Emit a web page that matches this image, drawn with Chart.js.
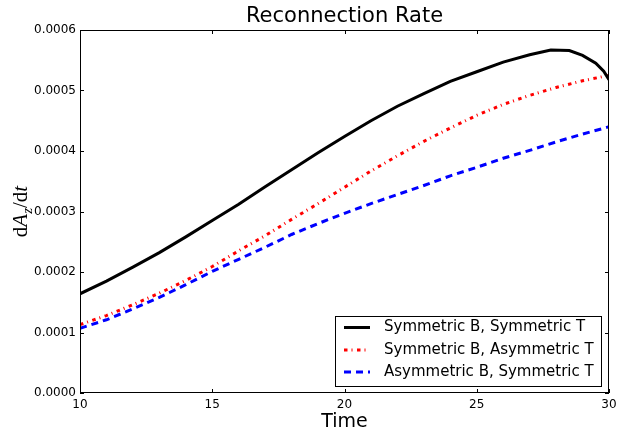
<!DOCTYPE html>
<html>
<head>
<meta charset="utf-8">
<script src="https://cdn.jsdelivr.net/npm/chart.js@4.4.1/dist/chart.umd.min.js"></script>
<style>
html,body{margin:0;padding:0;background:#fff;}
#wrap{width:618px;height:431px;position:relative;}
</style>
</head>
<body>
<div id="wrap"><canvas id="c" width="618" height="431"></canvas></div>
<script>
const titleText = "Reconnection Rate";
const xTitle = "Time";
const seriesLabels = ["Symmetric B, Symmetric T", "Symmetric B, Asymmetric T", "Asymmetric B, Symmetric T"];
const xTicks = [10, 15, 20, 25, 30];
const yTicks = [0, 0.0001, 0.0002, 0.0003, 0.0004, 0.0005, 0.0006];

const timeBlack = [10, 11, 12, 13, 14, 15, 16, 17, 18, 19, 20, 21, 22, 23, 24, 25, 26, 27, 27.8, 28.5, 29, 29.5, 29.8, 30];
const symBsymT = [0.000164, 0.000185, 0.000208, 0.000232, 0.000258, 0.000285, 0.000312, 0.000341, 0.000369, 0.000397, 0.000424, 0.000450, 0.000474, 0.000495, 0.000515, 0.000531, 0.000547, 0.000559, 0.000567, 0.000566, 0.000558, 0.000545, 0.000532, 0.000518];

const time = [10, 11, 12, 13, 14, 15, 16, 17, 18, 19, 20, 21, 22, 23, 24, 25, 26, 27, 28, 29, 30];
const symBasymT = [0.000113, 0.000128, 0.000146, 0.000165, 0.000186, 0.000209, 0.000235, 0.000260, 0.000287, 0.000313, 0.000340, 0.000367, 0.000392, 0.000416, 0.000438, 0.000459, 0.000477, 0.000492, 0.000505, 0.000516, 0.000525];
const asymBsymT = [0.000107, 0.000121, 0.000139, 0.000158, 0.000179, 0.000201, 0.000221, 0.000241, 0.000262, 0.000280, 0.000297, 0.000313, 0.000328, 0.000343, 0.000359, 0.000373, 0.000388, 0.000401, 0.000415, 0.000428, 0.000440];

const toPts = (xs, ys) => xs.map((x, i) => ({x: x, y: ys[i]}));

const styles = [
  {color: '#000000', dash: []},
  {color: '#ff0000', dash: [3.5, 4, 1, 4.5]},
  {color: '#0000ff', dash: [7, 5]}
];

const frame = {
  id: 'frame',
  afterDatasetsDraw(chart) {
    const ctx = chart.ctx;
    const a = chart.chartArea;
    const xs = chart.scales.x, ys = chart.scales.y;
    ctx.save();
    ctx.strokeStyle = '#000';
    ctx.lineWidth = 1;
    ctx.setLineDash([]);
    ctx.strokeRect(a.left + 0.5, a.top + 0.5, a.right - a.left - 1, a.bottom - a.top - 1);
    const tl = 4;
    ctx.beginPath();
    xTicks.forEach(v => {
      const px = Math.round(xs.getPixelForValue(v)) + 0.5;
      ctx.moveTo(px, a.bottom); ctx.lineTo(px, a.bottom - tl);
      ctx.moveTo(px, a.top); ctx.lineTo(px, a.top + tl);
    });
    yTicks.forEach(v => {
      const py = Math.round(ys.getPixelForValue(v)) + 0.5;
      ctx.moveTo(a.left, py); ctx.lineTo(a.left + tl, py);
      ctx.moveTo(a.right, py); ctx.lineTo(a.right - tl, py);
    });
    ctx.stroke();
    ctx.restore();
  },
  afterDraw(chart) {
    const ctx = chart.ctx;
    const a = chart.chartArea;
    ctx.save();
    ctx.fillStyle = '#000';
    ctx.font = '21px "DejaVu Sans"';
    ctx.textAlign = 'center';
    ctx.textBaseline = 'middle';
    ctx.fillText(titleText, (a.left + a.right) / 2, 17);
    ctx.font = '19px "DejaVu Sans"';
    ctx.fillText(xTitle, (a.left + a.right) / 2, 422);
    ctx.save();
    ctx.translate(20, (a.top + a.bottom) / 2);
    ctx.rotate(-Math.PI / 2);
    ctx.textBaseline = 'alphabetic';
    ctx.textAlign = 'left';
    const parts = [
      {t: 'd', f: '21px "Liberation Serif"', dy: 0},
      {t: 'A', f: 'italic 21px "Liberation Serif"', dy: 0},
      {t: 'z', f: 'italic 15px "Liberation Serif"', dy: 5},
      {t: '/', f: '21px "Liberation Serif"', dy: 0},
      {t: 'd', f: '21px "Liberation Serif"', dy: 0},
      {t: 't', f: 'italic 21px "Liberation Serif"', dy: 0}
    ];
    let total = 0;
    parts.forEach(p => { ctx.font = p.f; p.w = ctx.measureText(p.t).width; total += p.w; });
    let cx = -total / 2;
    parts.forEach(p => { ctx.font = p.f; ctx.fillText(p.t, cx, 7 + p.dy); cx += p.w; });
    ctx.restore();
    const lx = 335, ly = 316, lw = 266, lh = 70;
    ctx.fillStyle = '#fff';
    ctx.fillRect(lx, ly, lw, lh);
    ctx.strokeStyle = '#000';
    ctx.lineWidth = 1;
    ctx.setLineDash([]);
    ctx.strokeRect(lx + 0.5, ly + 0.5, lw, lh);
    const rows = [327.5, 350, 372];
    chart.data.datasets.forEach((ds, i) => {
      ctx.strokeStyle = ds.borderColor;
      ctx.lineWidth = 3;
      ctx.lineCap = 'butt';
      ctx.setLineDash(ds.borderDash || []);
      ctx.beginPath();
      ctx.moveTo(344, rows[i]); ctx.lineTo(370, rows[i]);
      ctx.stroke();
      ctx.setLineDash([]);
      ctx.fillStyle = '#000';
      ctx.font = '15px "DejaVu Sans"';
      ctx.textAlign = 'left';
      ctx.textBaseline = 'middle';
      ctx.fillText(ds.label, 384, rows[i]);
    });
    ctx.restore();
  }
};

new Chart(document.getElementById('c'), {
  type: 'line',
  data: {
    datasets: [
      {label: seriesLabels[0], data: toPts(timeBlack, symBsymT), borderColor: styles[0].color, borderDash: styles[0].dash, borderWidth: 3, pointRadius: 0, fill: false, tension: 0},
      {label: seriesLabels[1], data: toPts(time, symBasymT), borderColor: styles[1].color, borderDash: styles[1].dash, borderWidth: 3, pointRadius: 0, fill: false, tension: 0},
      {label: seriesLabels[2], data: toPts(time, asymBsymT), borderColor: styles[2].color, borderDash: styles[2].dash, borderWidth: 3, pointRadius: 0, fill: false, tension: 0}
    ]
  },
  options: {
    responsive: false,
    animation: false,
    layout: {padding: {top: 30, right: 9, left: 0, bottom: 0}},
    plugins: {legend: {display: false}, title: {display: false}, tooltip: {enabled: false}},
    scales: {
      x: {
        type: 'linear', min: 10, max: 30,
        afterFit: s => { s.height = 38; s.paddingLeft = 0; s.paddingRight = 0; },
        afterBuildTicks: s => { s.ticks = xTicks.map(v => ({value: v})); },
        grid: {display: false, drawTicks: false},
        border: {display: false},
        ticks: {color: '#000', font: {family: 'DejaVu Sans', size: 12}, padding: 5, maxRotation: 0, callback: v => String(v)}
      },
      y: {
        type: 'linear', min: 0, max: 0.0006,
        afterFit: s => { s.width = 80; s.paddingTop = 0; s.paddingBottom = 0; },
        afterBuildTicks: s => { s.ticks = yTicks.map(v => ({value: v})); },
        grid: {display: false, drawTicks: false},
        border: {display: false},
        ticks: {color: '#000', font: {family: 'DejaVu Sans', size: 12}, padding: 4, callback: v => Number(v).toFixed(4)}
      }
    }
  },
  plugins: [frame]
});
</script>
</body>
</html>
